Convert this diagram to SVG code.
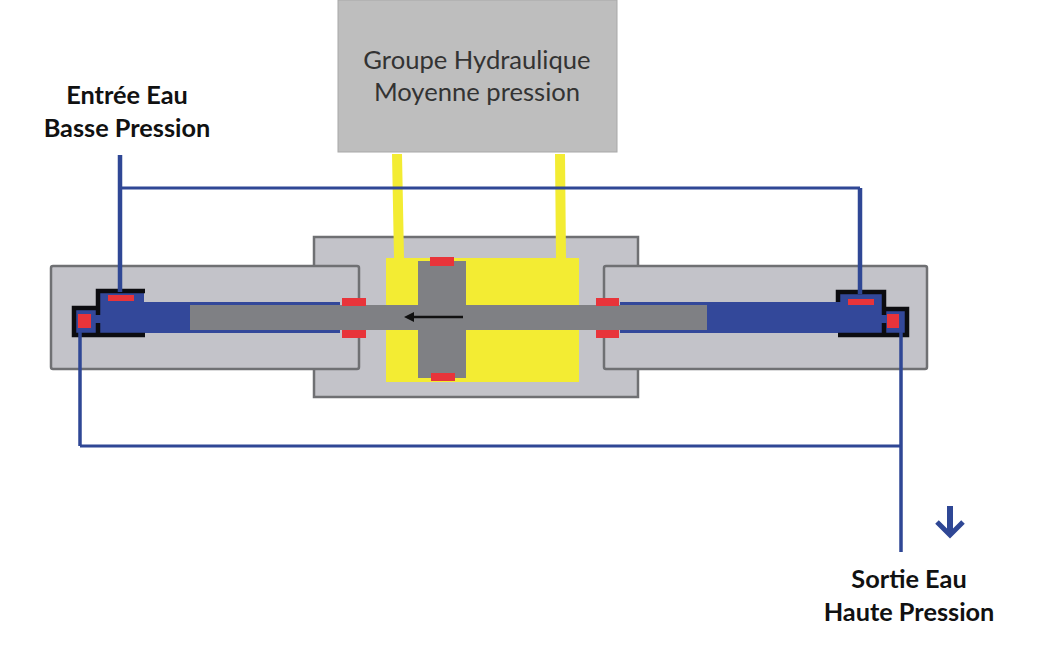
<svg xmlns="http://www.w3.org/2000/svg" width="1045" height="645" viewBox="0 0 1045 645">
<style>
.body{fill:#c3c3c9;stroke:#6f7073;stroke-width:2.5}
.seal{fill:#e8343a}
.oil{fill:#f3ec33}
.rod{fill:#7f8084}
.water{fill:#33489a}
.line{fill:none;stroke:#2f4795;stroke-width:3}
.blk{fill:none;stroke:#0c0c10;stroke-width:4.5}
.lbl{font-family:Lato,"Liberation Sans",sans-serif;font-size:25.6px;text-anchor:middle;fill:#333}
.wl{font-family:Lato,"Liberation Sans",sans-serif;font-size:25.3px;font-weight:bold;text-anchor:middle;fill:#111}
</style>
<rect width="1045" height="645" fill="#fff"/>
<g id="corps-central"><rect class="body" x="314" y="237" width="324" height="160"/></g>
<g id="cylindre-gauche"><rect class="body" x="51" y="266" width="308" height="103" rx="2"/></g>
<g id="cylindre-droit"><rect class="body" x="604" y="266" width="323" height="103" rx="2"/></g>
<g id="groupe-hydraulique">
<rect x="338" y="0" width="279" height="152" fill="#bebebe" stroke="#a8a8a8"/>
<text class="lbl" x="477" y="69">Groupe Hydraulique</text>
<text class="lbl" x="477" y="101">Moyenne pression</text>
</g>
<g id="circuit-huile">
<path class="oil" d="M392 154H402L404 258H394ZM555 154H565L566 258H556Z"/>
<rect class="oil" x="386" y="258" width="193" height="124"/>
</g>
<g id="eau-gauche">
<path class="water" d="M96 290H144V302H340V333H96Z"/>
<rect class="water" x="74" y="308" width="24" height="27"/>
<path class="blk" d="M145 291H98V308H74V335H145M98 308V315M98 323V335"/>
<rect class="seal" x="108" y="295" width="26" height="6"/>
<rect class="seal" x="78" y="314" width="13" height="14"/>
</g>
<g id="eau-droite">
<path class="water" d="M884 292H838V302H620V333H884Z"/>
<rect class="water" x="884" y="309" width="23" height="26"/>
<path class="blk" d="M838 302V292H884V315M884 323V335H838M884 309H907V335H884"/>
<rect class="seal" x="848" y="299" width="26" height="6"/>
<rect class="seal" x="887" y="314" width="12" height="14"/>
</g>
<g id="piston">
<rect class="rod" x="190" y="305" width="517" height="25"/>
<rect class="rod" x="418" y="261" width="48" height="117"/>
</g>
<g id="joints">
<rect class="seal" x="342" y="298" width="24" height="8"/>
<rect class="seal" x="342" y="330" width="24" height="8"/>
<rect class="seal" x="596" y="298" width="23" height="8"/>
<rect class="seal" x="596" y="330" width="23" height="8"/>
<rect class="seal" x="430" y="257" width="24" height="9"/>
<rect class="seal" x="431" y="373" width="24" height="8"/>
</g>
<g id="connecteurs">
<path class="line" d="M120 188H860M80 446H901"/>
<path class="line" style="stroke-width:4.5" d="M120 155V292M860 188V294"/>
<path class="line" style="stroke-width:3.5" d="M80 332V446M901 332V552"/>
<path d="M463 317H412" fill="none" stroke="#111" stroke-width="2.5"/>
<path d="M404 317L414 312V322Z" fill="#111"/>
<path d="M950 506V534" fill="none" stroke="#2f4795" stroke-width="6"/>
<path d="M937 522L950 535L963 522" fill="none" stroke="#2f4795" stroke-width="5"/>
</g>
<g id="entree-eau">
<text class="wl" x="127" y="104">Entrée Eau</text>
<text class="wl" x="127" y="137">Basse Pression</text>
</g>
<g id="sortie-eau">
<text class="wl" x="909" y="588">Sortie Eau</text>
<text class="wl" x="909" y="621">Haute Pression</text>
</g>
</svg>
